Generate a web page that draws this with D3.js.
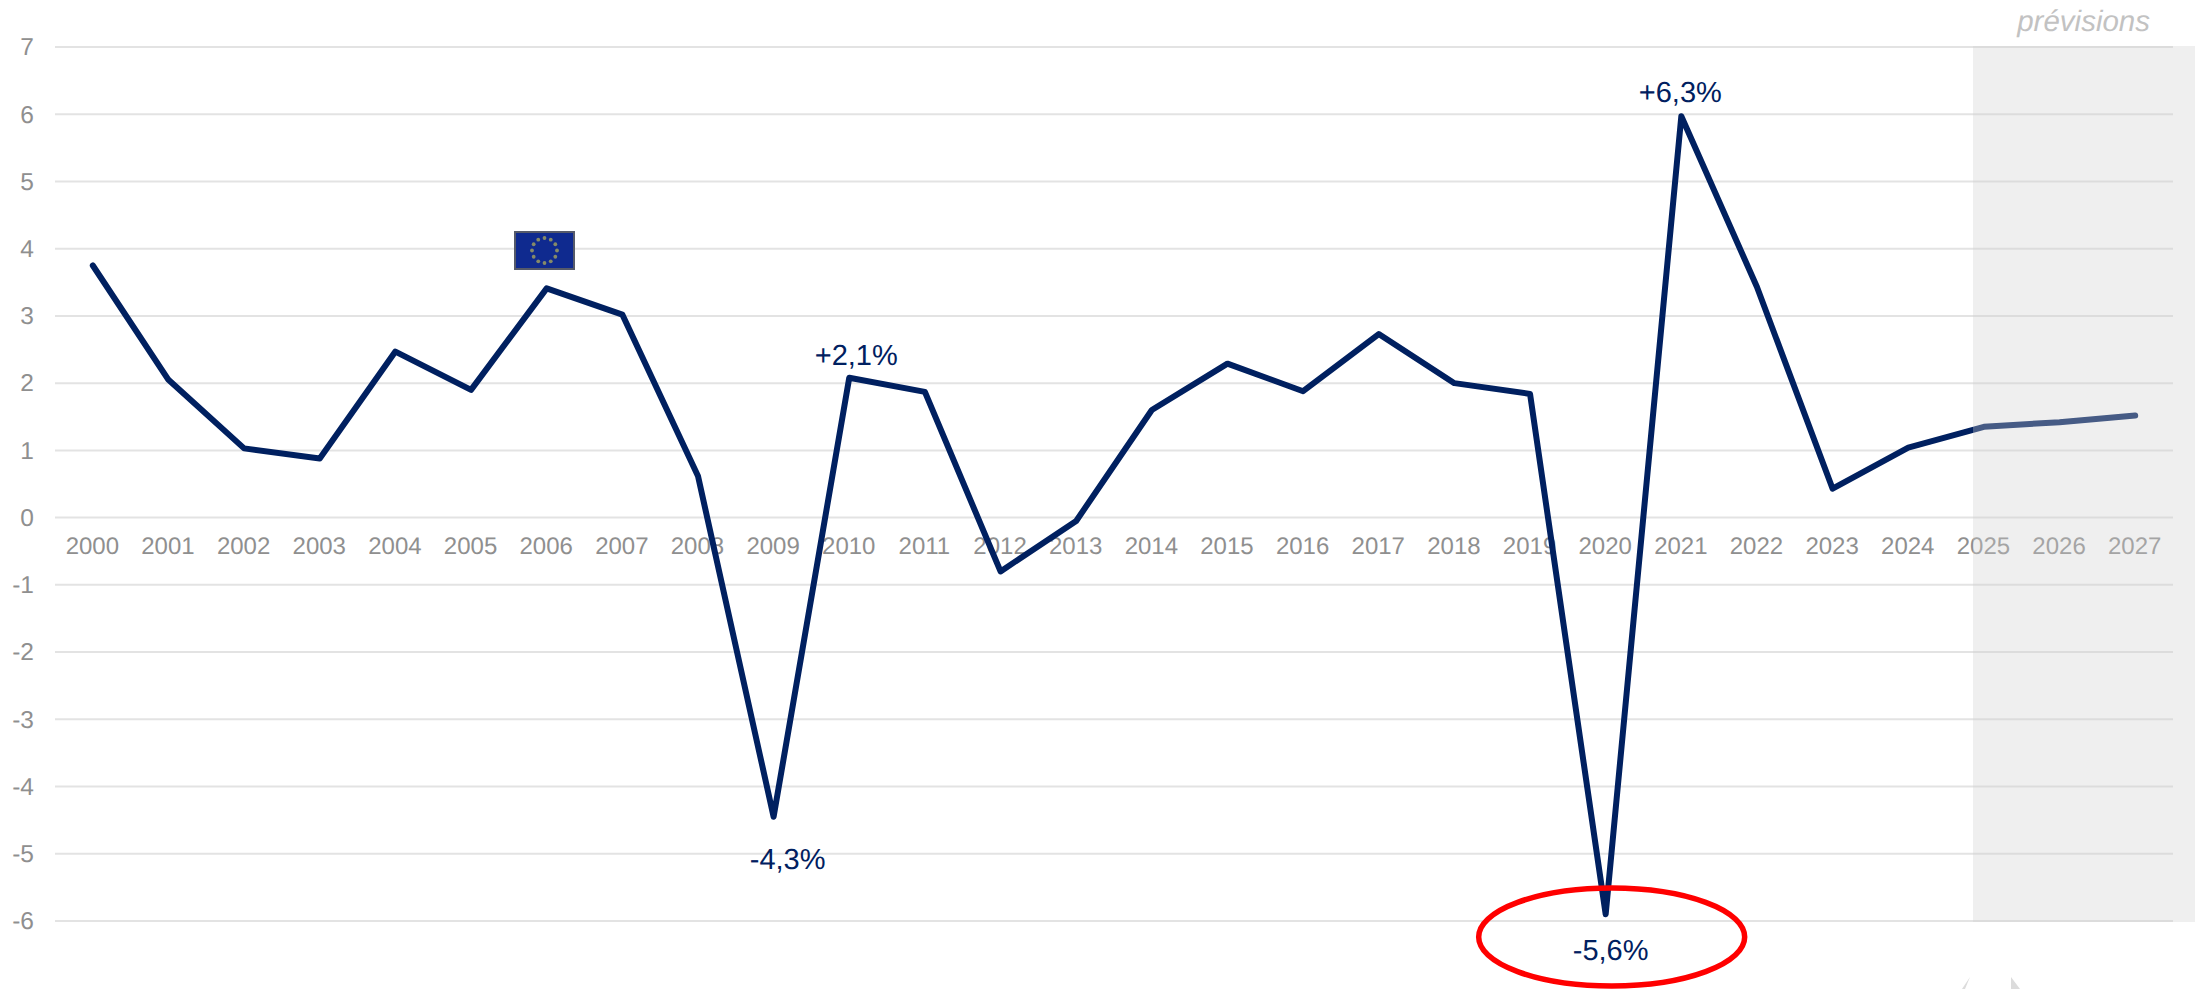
<!DOCTYPE html>
<html><head><meta charset="utf-8">
<script src="https://cdn.jsdelivr.net/npm/d3@7"></script>
<style>html,body{margin:0;padding:0;background:#fff}svg{display:block}text{font-family:"Liberation Sans",Arial,sans-serif;text-rendering:geometricPrecision}</style>
</head><body><svg id="c" width="2200" height="989"></svg>
<script>
const years=[2000,2001,2002,2003,2004,2005,2006,2007,2008,2009,2010,2011,2012,2013,2014,2015,2016,2017,2018,2019,2020,2021,2022,2023,2024,2025,2026,2027];
const growth=[3.75,2.05,1.03,0.88,2.47,1.9,3.41,3.02,0.62,-4.45,2.08,1.87,-0.8,-0.05,1.6,2.29,1.88,2.73,2.0,1.84,-5.9,5.97,3.43,0.43,1.04,1.35,1.42,1.52];
const yTicks=[7,6,5,4,3,2,1,0,-1,-2,-3,-4,-5,-6];
const annotYears=[2009,2010,2020,2021];
const annotLabels=["-4,3%","+2,1%","-5,6%","+6,3%"];
const annotDx=[14,7,5,-1];
const annotDy=[52,-13,46,-14];
const forecastLabel="prévisions";
const circledYear=2020;

const svg=d3.select("#c");
const x=d3.scaleBand().domain(years).range([55,2173]);
const y=d3.scaleLinear().domain([-6,7]).range([921,47]);
const cx=v=>x(v)+x.bandwidth()/2;

svg.append("g").selectAll("line").data(yTicks).join("line")
 .attr("x1",55).attr("x2",2173).attr("y1",d=>y(d)).attr("y2",d=>y(d))
 .attr("stroke","#e3e3e3").attr("stroke-width",2);

const yAxis=d3.axisLeft(y).tickValues(yTicks).tickSize(0).tickPadding(0).tickFormat(d3.format("d"));
const gy=svg.append("g").attr("transform","translate(34,0)").attr("opacity",0.999).call(yAxis);
gy.select(".domain").remove();
gy.selectAll("text").attr("font-size",24.5).attr("fill","#8f8f8f").attr("font-family",'"Liberation Sans"').text(d=>String(d));

const xAxis=d3.axisBottom(x).tickSize(0).tickPadding(0);
const gx=svg.append("g").attr("transform","translate(-0.5,537)").attr("opacity",0.999).call(xAxis);
gx.select(".domain").remove();
gx.selectAll("text").attr("font-size",24).attr("fill","#8f8f8f").attr("font-family",'"Liberation Sans"');

const line=d3.line().x((d,i)=>cx(years[i])).y(d=>y(d));
svg.append("path").attr("d",line(growth)).attr("fill","none").attr("stroke","#002060").attr("stroke-width",6).attr("stroke-linejoin","round").attr("stroke-linecap","round");

// shaded forecast zone sits above line and labels
svg.append("rect").attr("x",1973).attr("y",y(7)-1).attr("width",222).attr("height",y(-6)-y(7)+2)
 .attr("fill","rgb(208,208,208)").attr("fill-opacity",0.337);
svg.append("text").attr("x",2150).attr("y",31).attr("opacity",0.999).attr("text-anchor","end").attr("font-style","italic").attr("font-size",29.5).attr("fill","#c2c2c2").text(forecastLabel);

svg.append("g").attr("opacity",0.999).selectAll("text").data(annotYears).join("text")
 .attr("x",(d,i)=>cx(d)+annotDx[i]).attr("y",(d,i)=>y(growth[years.indexOf(d)])+annotDy[i])
 .attr("text-anchor","middle").attr("font-size",29).attr("fill","#002060").text((d,i)=>annotLabels[i]);

svg.append("ellipse").attr("cx",cx(circledYear)+6).attr("cy",y(-6)+16).attr("rx",133).attr("ry",49)
 .attr("fill","none").attr("stroke","#ff0000").attr("stroke-width",5.5);

// EU flag
const flag=svg.append("g").attr("transform","translate(544.5,250.5)");
flag.append("rect").attr("x",-29.5).attr("y",-18.5).attr("width",59).attr("height",37).attr("fill","#0f2a8f").attr("stroke","#555a6a").attr("stroke-width",2);
flag.selectAll("circle").data(d3.range(12)).join("circle")
 .attr("cx",d=>12.5*Math.sin(d*Math.PI/6)).attr("cy",d=>-12.5*Math.cos(d*Math.PI/6)).attr("r",1.9).attr("fill","#858a68");

// clipped grey remnants at the foot of the picture
svg.append("path").attr("d","M1962,989L1970,977L1965,989Z M2011,977L2020,989L2011,989Z").attr("fill","#dcdcdc");
</script></body></html>
